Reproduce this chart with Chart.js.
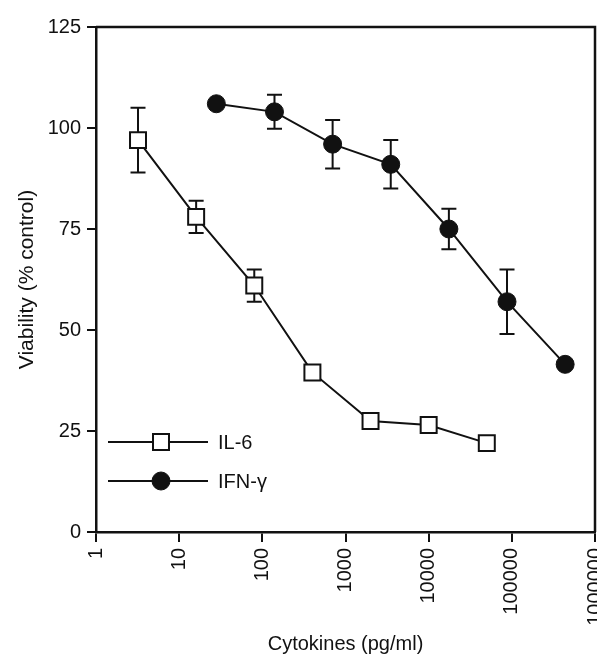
<!DOCTYPE html>
<html>
<head>
<meta charset="utf-8">
<title>Viability vs cytokines</title>
<script src="https://cdn.jsdelivr.net/npm/chart.js@4.4.1/dist/chart.umd.min.js"></script>
<style>
    html, body { margin: 0; padding: 0; background: #fff; }
    #wrap { width: 597px; height: 660px; }
</style>
</head>
<body>
<div id="wrap"><canvas id="viabilityChart" width="597" height="660"></canvas></div>
<script>
// Chart data
const il6Conc = [3.2, 16, 80, 400, 2000, 10000, 50000];
const il6Viability = [97, 78, 61, 39.5, 27.5, 26.5, 22];
const il6Error = [8, 4, 4, 0, 0, 0, 0];

const ifnConc = [28, 140, 700, 3500, 17500, 87500, 437500];
const ifnViability = [106, 104, 96, 91, 75, 57, 41.5];
const ifnError = [0, 4.2, 6, 6, 5, 8, 0];

const xTickValues = [1, 10, 100, 1000, 10000, 100000, 1000000];
const yTickValues = [0, 25, 50, 75, 100, 125];

const FONT = "'Liberation Sans', Arial, Helvetica, sans-serif";
const INK = '#111';

function toPoints(xs, ys) {
    return xs.map((x, i) => ({ x: x, y: ys[i] }));
}

// Vertical error bars with caps, drawn under the markers
const errorBarPlugin = {
    id: 'errorBars',
    beforeDatasetsDraw(chart) {
        const ctx = chart.ctx;
        const xScale = chart.scales.x;
        const yScale = chart.scales.y;
        ctx.save();
        ctx.strokeStyle = INK;
        ctx.lineWidth = 2;
        chart.data.datasets.forEach(ds => {
            (ds.errors || []).forEach((err, i) => {
                if (!err) return;
                const pt = ds.data[i];
                const x = xScale.getPixelForValue(pt.x);
                const yHi = yScale.getPixelForValue(pt.y + err);
                const yLo = yScale.getPixelForValue(pt.y - err);
                ctx.beginPath();
                ctx.moveTo(x, yHi);
                ctx.lineTo(x, yLo);
                ctx.moveTo(x - 7.5, yHi);
                ctx.lineTo(x + 7.5, yHi);
                ctx.moveTo(x - 7.5, yLo);
                ctx.lineTo(x + 7.5, yLo);
                ctx.stroke();
            });
        });
        ctx.restore();
    }
};

// Closed frame round the plot (top and right sides)
const framePlugin = {
    id: 'frame',
    afterDraw(chart) {
        const a = chart.chartArea;
        const ctx = chart.ctx;
        ctx.save();
        ctx.strokeStyle = INK;
        ctx.lineWidth = 2.5;
        ctx.beginPath();
        ctx.moveTo(a.left, a.top);
        ctx.lineTo(a.right, a.top);
        ctx.lineTo(a.right, a.bottom);
        ctx.stroke();
        ctx.restore();
    }
};

// Legend in the lower left corner: line through marker, then label
const insideLegendPlugin = {
    id: 'insideLegend',
    afterDraw(chart) {
        const a = chart.chartArea;
        const ctx = chart.ctx;
        ctx.save();
        chart.data.datasets.forEach((ds, i) => {
            const y = a.bottom - 90 + i * 39;
            const x0 = a.left + 12;
            ctx.strokeStyle = INK;
            ctx.lineWidth = 2;
            ctx.beginPath();
            ctx.moveTo(x0, y);
            ctx.lineTo(x0 + 100, y);
            ctx.stroke();
            ctx.fillStyle = ds.pointBackgroundColor;
            ctx.strokeStyle = INK;
            ctx.lineWidth = ds.pointBorderWidth;
            Chart.helpers.drawPoint(ctx, {
                pointStyle: ds.pointStyle,
                radius: ds.pointRadius,
                rotation: 0,
                borderWidth: ds.pointBorderWidth
            }, x0 + 53, y);
            ctx.fillStyle = INK;
            ctx.font = '20px ' + FONT;
            ctx.textAlign = 'left';
            ctx.textBaseline = 'middle';
            ctx.fillText(ds.label, x0 + 110, y + 1);
        });
        ctx.restore();
    }
};

document.addEventListener('DOMContentLoaded', function () {
    const ctx = document.getElementById('viabilityChart');

    new Chart(ctx, {
        type: 'line',
        data: {
            datasets: [{
                label: 'IL-6',
                data: toPoints(il6Conc, il6Viability),
                errors: il6Error,
                borderColor: INK,
                borderWidth: 2,
                pointStyle: 'rect',
                pointRadius: 11.3,
                pointBackgroundColor: '#fff',
                pointBorderColor: INK,
                pointBorderWidth: 2,
                tension: 0
            }, {
                label: 'IFN-\u03B3',
                data: toPoints(ifnConc, ifnViability),
                errors: ifnError,
                borderColor: INK,
                borderWidth: 2,
                pointStyle: 'circle',
                pointRadius: 9,
                pointBackgroundColor: INK,
                pointBorderColor: INK,
                pointBorderWidth: 1,
                tension: 0
            }]
        },
        options: {
            responsive: false,
            animation: false,
            devicePixelRatio: 1,
            // autoPadding off so the big markers don't shrink the plot box
            layout: { autoPadding: false, padding: { top: 27, right: 2, left: 0, bottom: 0 } },
            plugins: {
                legend: { display: false },
                tooltip: { enabled: false }
            },
            scales: {
                x: {
                    type: 'logarithmic',
                    min: 1,
                    max: 1000000,
                    afterBuildTicks: function (scale) {
                        scale.ticks = xTickValues.map(v => ({ value: v }));
                    },
                    afterFit: function (scale) {
                        scale.height = 128;
                        scale.paddingLeft = 0;
                        scale.paddingRight = 0;
                    },
                    grid: {
                        drawOnChartArea: false,
                        drawTicks: true,
                        tickLength: 10,
                        color: INK,
                        lineWidth: 2
                    },
                    border: { display: true, color: INK, width: 2.5 },
                    ticks: {
                        color: INK,
                        font: { family: FONT, size: 20 },
                        minRotation: 90,
                        maxRotation: 90,
                        padding: 6,
                        autoSkip: false,
                        callback: function (value) {
                            return String(value);
                        }
                    },
                    title: {
                        display: true,
                        text: 'Cytokines (pg/ml)',
                        color: INK,
                        font: { family: FONT, size: 20 },
                        padding: { top: 3, bottom: 4 }
                    }
                },
                y: {
                    min: 0,
                    max: 125,
                    afterBuildTicks: function (scale) {
                        scale.ticks = yTickValues.map(v => ({ value: v }));
                    },
                    afterFit: function (scale) {
                        scale.width = 96;
                    },
                    grid: {
                        drawOnChartArea: false,
                        drawTicks: true,
                        tickLength: 9,
                        color: INK,
                        lineWidth: 2
                    },
                    border: { display: true, color: INK, width: 2.5 },
                    ticks: {
                        color: INK,
                        font: { family: FONT, size: 20 },
                        padding: 6
                    },
                    title: {
                        display: true,
                        text: 'Viability (% control)',
                        color: INK,
                        font: { family: FONT, size: 21 },
                        padding: { top: 15, bottom: 4 }
                    }
                }
            }
        },
        plugins: [errorBarPlugin, framePlugin, insideLegendPlugin]
    });
});
</script>
</body>
</html>
